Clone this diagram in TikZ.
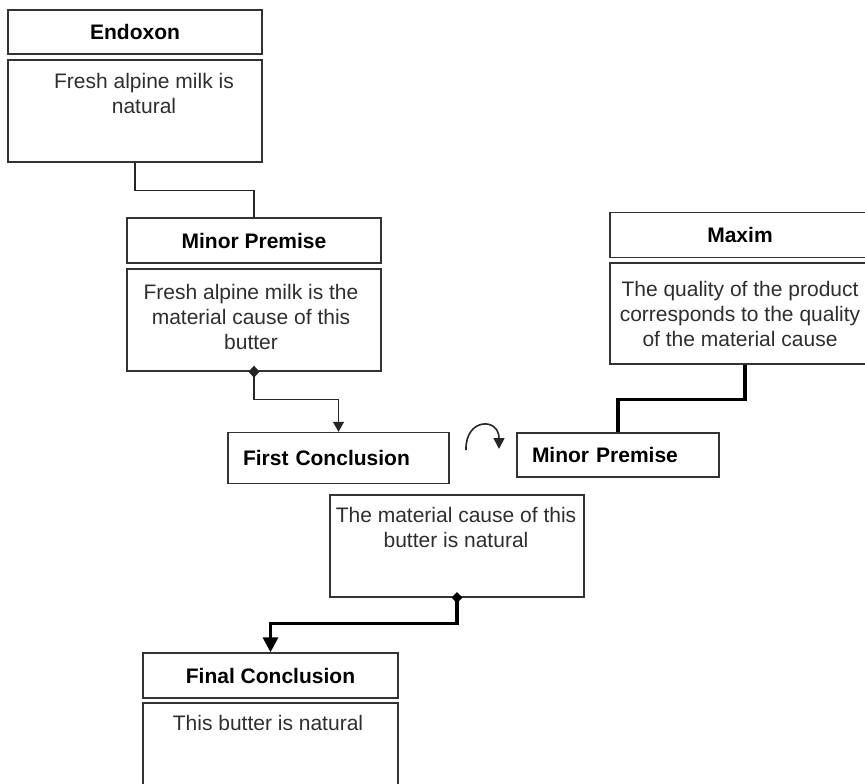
\documentclass[tikz,border=0pt]{standalone}
\usepackage{fontspec}
\setmainfont{Liberation Sans}
\usetikzlibrary{arrows.meta,calc}

\begin{document}
\begin{tikzpicture}[x=1pt,y=-1pt,
  box/.style={draw=black!80, line width=1.4pt, rectangle, inner sep=0pt},
  head/.style={box, font=\fontsize{21}{25}\selectfont\bfseries},
  lefthead/.style={head, inner xsep=15pt, align=left},
  bodytext/.style={anchor=north, inner sep=0pt, align=center,
    font=\fontsize{21}{25}\selectfont, text=black!82},
  link/.style={draw=black!85, line width=1.3pt},
  boldlink/.style={draw=black, line width=3.2pt},
  thinends/.style={{Diamond[length=12pt,width=11pt]}-{Triangle[length=10pt,width=11pt]}, shorten <=-6pt},
  boldends/.style={{Diamond[length=11pt,width=11pt]}-{Triangle[length=15pt,width=15pt]}, shorten <=-5.5pt}
]
\useasboundingbox (0,0) rectangle (865,784);

% Endoxon
\node[head, minimum width=254pt, minimum height=44pt] (endH) at (135,32) {Endoxon};
\node[box, minimum width=254pt, minimum height=102pt] (endB) at (135,111) {};
\node[bodytext] (endT) at (144,73) {Fresh alpine milk is\\natural};

% Minor premise (left)
\node[head, minimum width=254pt, minimum height=45pt] (minH) at (254,240.5) {Minor Premise};
\node[box, minimum width=254pt, minimum height=102pt] (minB) at (254,320) {};
\node[bodytext] (minT) at (251,284) {Fresh alpine milk is the\\material cause of this\\butter};

% Maxim
\node[head, minimum width=260pt, minimum height=45pt] (maxH) at (740,235) {Maxim};
\node[box, minimum width=260pt, minimum height=101pt] (maxB) at (740,313.5) {};
\node[bodytext] (maxT) at (740,281) {The quality of the product\\corresponds to the quality\\of the material cause};

% First conclusion and minor premise (right)
\node[lefthead, text width=191pt, minimum height=51pt] (firstC) at (338.5,458) {First Conclusion};
\node[lefthead, text width=172pt, minimum height=44pt] (minR) at (618,455) {Minor Premise};

% Content of the first conclusion
\node[box, minimum width=254pt, minimum height=102pt] (matB) at (457,546) {};
\node[bodytext] (matT) at (456,507) {The material cause of this\\butter is natural};

% Final conclusion
\node[head, minimum width=255pt, minimum height=45pt] (finH) at (270.5,675.5) {Final Conclusion};
\node[box, minimum width=255pt, minimum height=100pt] (finB) at (270.5,753) {};
\node[bodytext] (finT) at (268,715) {This butter is natural};

% Connectors
\draw[link] (endB.south) -- ++(0,28) -| (minH.north);
\draw[link, thinends] (minB.south) -- ++(0,28) -| (firstC.north);
\draw[boldlink] ($(maxB.south)+(5,0)$) -- ++(0,35) -| (minR.north);
\draw[boldlink, boldends] (matB.south) -- ++(0,26) -| (finH.north);

% Curved arrow between the two middle boxes
\coordinate (turnA) at (466,450);
\coordinate (turnB) at (499,449);
\draw[link, line width=1.6pt, -{Triangle[length=11pt,width=11pt]}] (turnA) .. controls (465,418) and (499,417) .. (turnB);
\end{tikzpicture}
\end{document}
